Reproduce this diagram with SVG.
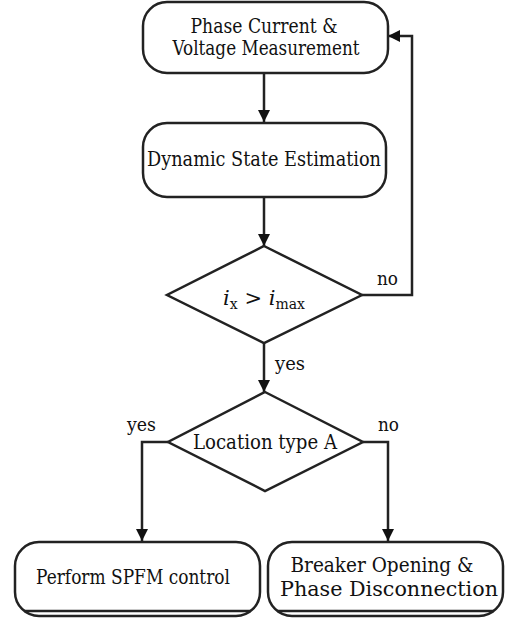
<svg xmlns="http://www.w3.org/2000/svg" width="526" height="619" viewBox="0 0 526 619">
<style>
.n{fill:#fff;stroke:#222;stroke-width:2.5}
.c{fill:none;stroke:#222;stroke-width:2.5}
.t{font-family:'DejaVu Serif','Liberation Serif',serif;font-size:21px;fill:#111;text-anchor:middle}
.lbl{font-size:19px;text-anchor:start}
</style>
<defs>
<marker id="ah" viewBox="0 0 12 12" refX="12" refY="6" markerWidth="12" markerHeight="12" markerUnits="userSpaceOnUse" orient="auto">
<path d="M0,0 L12,6 L0,12 z" fill="#111"/>
</marker>
</defs>
<g id="connectors">
<path class="c" d="M264,73 V122" marker-end="url(#ah)"/>
<path class="c" d="M264,197 V246" marker-end="url(#ah)"/>
<path class="c" d="M362,295 H412 V36 H388" marker-end="url(#ah)"/>
<path class="c" d="M264,343 V392" marker-end="url(#ah)"/>
<path class="c" d="M168,442 H142 V541" marker-end="url(#ah)"/>
<path class="c" d="M363,442 H388 V541" marker-end="url(#ah)"/>
<text class="t lbl" x="377" y="285" textLength="21" lengthAdjust="spacingAndGlyphs">no</text>
<text class="t lbl" x="275" y="370" textLength="30" lengthAdjust="spacingAndGlyphs">yes</text>
<text class="t lbl" x="127" y="431" textLength="29" lengthAdjust="spacingAndGlyphs">yes</text>
<text class="t lbl" x="378" y="431" textLength="21" lengthAdjust="spacingAndGlyphs">no</text>
</g>
<g id="measure">
<rect class="n" x="143" y="2" width="245" height="71" rx="24"/>
<text class="t" x="264" y="33" textLength="147" lengthAdjust="spacingAndGlyphs">Phase Current &amp;</text>
<text class="t" x="266" y="55" textLength="187" lengthAdjust="spacingAndGlyphs">Voltage Measurement</text>
</g>
<g id="dse">
<rect class="n" x="143" y="123" width="243" height="74" rx="24"/>
<text class="t" x="264" y="166" textLength="234" lengthAdjust="spacingAndGlyphs">Dynamic State Estimation</text>
</g>
<g id="check">
<polygon class="n" points="264,246 362,295 264,343 167,295"/>
<text class="t" x="264" y="305"><tspan font-style="italic">i</tspan><tspan font-size="14" dy="4">x</tspan><tspan dy="-4"> &gt; </tspan><tspan font-style="italic">i</tspan><tspan font-size="14" dy="4">max</tspan></text>
</g>
<g id="loc">
<polygon class="n" points="265,392 363,442 265,491 168,442"/>
<text class="t" x="265" y="449" textLength="144" lengthAdjust="spacingAndGlyphs">Location type A</text>
</g>
<g id="spfm">
<rect class="n" x="15" y="542" width="245" height="74" rx="24"/>
<line class="c" x1="24" y1="611" x2="251" y2="611" stroke-width="2"/>
<text class="t" x="133" y="584" textLength="194" lengthAdjust="spacingAndGlyphs">Perform SPFM control</text>
</g>
<g id="breaker">
<rect class="n" x="268" y="542" width="235" height="74" rx="24"/>
<line class="c" x1="277" y1="611" x2="494" y2="611" stroke-width="2"/>
<text class="t" x="382" y="572" textLength="183" lengthAdjust="spacingAndGlyphs">Breaker Opening &amp;</text>
<text class="t" x="389" y="596" textLength="218" lengthAdjust="spacingAndGlyphs">Phase Disconnection</text>
</g>
</svg>
